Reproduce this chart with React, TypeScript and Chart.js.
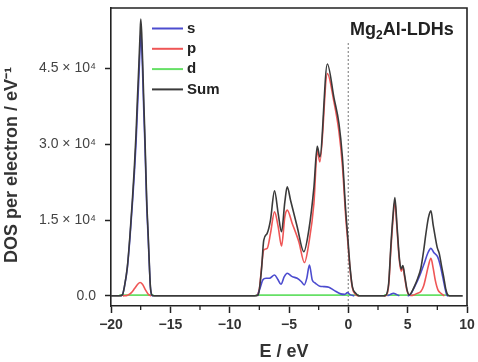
import React, { useEffect, useRef } from 'react';
import { Chart, registerables } from 'chart.js';
Chart.register(...registerables);

// ---- data (E in eV, DOS per electron / eV^-1) ----
const xTicks = [-20, -15, -10, -5, 0, 5, 10];
const xMinorTicks = [-17.5, -12.5, -7.5, -2.5, 2.5, 7.5];
const yTicks = [0, 15000, 30000, 45000];
const seriesLabels = ['s', 'p', 'd', 'Sum'];
const seriesColors = ['#4c4ccf', '#ef5656', '#66e066', '#3a3a3a'];
const chartTitle = ['Mg', '2', 'Al-LDHs'];
const fermiLineTop = 50000;

const sCurve: [number, number | null][] = [
  [-19.2, 0], [-19.04, 200], [-18.87, 1800], [-18.62, 5600], [-18.39, 11900], [-18.2, 18200],
  [-18.03, 24300], [-17.89, 30300], [-17.78, 36500], [-17.66, 42800], [-17.55, 49300], [-17.49, 52100],
  [-17.41, 49400], [-17.32, 43000], [-17.24, 36800], [-17.15, 30500], [-17.07, 24200], [-16.99, 17900],
  [-16.87, 11600], [-16.76, 5500], [-16.68, 1700], [-16.56, 150], [-16.45, 0], [-12, null],
  [-7.65, 0], [-7.4, 1800], [-7.21, 3160], [-6.93, 3490], [-6.65, 3490], [-6.22, 4150], [-5.95, 3300],
  [-5.68, 2300], [-5.4, 3800], [-5.15, 4480], [-4.73, 3820], [-4.31, 3490], [-3.95, 2800], [-3.72, 2170],
  [-3.5, 3500], [-3.28, 6120], [-3.04, 3160], [-2.76, 2500], [-2.4, 1900], [-2.06, 1840], [-1.64, 1700],
  [-1.2, 1100], [-0.65, 400], [-0.3, 300], [-0.08, 650], [0.15, 250], [0.5, 0], [2, null],
  [3.3, 0], [3.55, 300], [3.8, 530], [4.05, 300], [4.3, 0], [4.6, null],
  [5.0, 0], [5.13, 100], [5.3, 500], [5.56, 1700], [5.85, 3100], [6.11, 4600], [6.4, 6450], [6.7, 8500],
  [6.96, 9410], [7.2, 8600], [7.52, 7760], [7.75, 6000], [7.95, 3820], [8.15, 1500], [8.31, 100], [8.4, 0],
];

const pCurve: [number, number | null][] = [
  [-19.0, 0], [-18.6, 150], [-18.3, 600], [-18.0, 1500], [-17.75, 2300], [-17.55, 2650], [-17.35, 2300],
  [-17.1, 1200], [-16.85, 300], [-16.6, 0], [-12, null],
  [-7.7, 0], [-7.49, 1500], [-7.3, 6000], [-7.13, 9080], [-6.84, 9400], [-6.56, 12370], [-6.22, 16640],
  [-5.91, 13680], [-5.63, 9870], [-5.35, 15650], [-5.15, 16980], [-4.73, 14350], [-4.17, 10720],
  [-3.7, 6600], [-3.33, 10400], [-2.9, 18300], [-2.62, 28800], [-2.4, 26500], [-1.77, 44000],
  [-1.21, 38400], [-0.79, 32500], [-0.5, 25800], [-0.225, 15800], [-0.03, 10300], [0.14, 5400],
  [0.34, 1600], [0.6, 300], [0.9, 0], [2, null],
  [3.0, 0], [3.2, 100], [3.4, 2100], [3.58, 9000], [3.75, 14700], [3.92, 18700], [4.1, 13300], [4.3, 7000],
  [4.45, 4900], [4.6, 5600], [4.75, 3600], [4.95, 1000], [5.15, 150], [5.41, 100], [5.8, 500], [6.11, 850],
  [6.35, 2000], [6.54, 3820], [6.75, 6000], [6.96, 7440], [7.15, 5500], [7.32, 3160], [7.55, 1200],
  [7.8, 530], [8.1, 0],
];

const dCurve: [number, number | null][] = [
  [-19.3, 150], [-16.4, 150], [-12, null],
  [-7.8, 150], [0.9, 150], [2, null],
  [3.0, 150], [8.5, 150],
];

const sumCurve: [number, number | null][] = [
  [-20, 0], [-19.3, 0], [-19.04, 200], [-18.87, 1840], [-18.62, 5790], [-18.39, 12370], [-18.2, 18950],
  [-18.03, 25520], [-17.89, 32100], [-17.78, 38690], [-17.66, 45260], [-17.55, 51860], [-17.49, 54800],
  [-17.41, 51860], [-17.32, 45260], [-17.24, 38690], [-17.15, 32100], [-17.07, 25520], [-16.99, 18950],
  [-16.87, 12370], [-16.76, 5790], [-16.68, 1840], [-16.56, 200], [-16.4, 0],
  [-7.9, 0], [-7.6, 200], [-7.32, 5130], [-7.13, 11000], [-6.84, 12380], [-6.56, 15000], [-6.22, 20790],
  [-5.91, 16300], [-5.63, 12700], [-5.35, 18600], [-5.15, 21580], [-4.87, 18950], [-4.31, 13700],
  [-3.75, 8750], [-3.33, 13030], [-2.9, 21500], [-2.62, 29600], [-2.4, 27500], [-1.77, 45900],
  [-1.21, 39200], [-0.79, 34100], [-0.5, 27500], [-0.225, 17000], [-0.03, 11050], [0.14, 5790],
  [0.34, 1840], [0.62, 530], [0.9, 0],
  [3.0, 0], [3.15, 100], [3.4, 2500], [3.58, 9730], [3.75, 15500], [3.92, 19480], [4.1, 14000], [4.3, 7500],
  [4.45, 5300], [4.6, 6000], [4.75, 4000], [4.95, 1200], [5.13, 200], [5.3, 600], [5.56, 1840], [5.85, 3500],
  [6.11, 5470], [6.35, 9000], [6.54, 12370], [6.75, 15500], [6.96, 16840], [7.15, 14000], [7.32, 11700],
  [7.5, 9500], [7.66, 8420], [7.85, 6000], [8.03, 3820], [8.2, 1500], [8.37, 200], [8.5, 0], [9.64, 0],
];

const FF = "'Liberation Sans', Arial, Helvetica, sans-serif";
const toPts = (c: [number, number | null][]) => c.map(([x, y]) => ({ x, y }));

const decor = {
  id: 'decor',
  beforeDatasetsDraw(chart: any) {
    const { ctx, chartArea: a, scales } = chart;
    const px = scales.x.getPixelForValue(0);
    ctx.save();
    ctx.strokeStyle = '#7a7a7a';
    ctx.lineWidth = 1.4;
    ctx.setLineDash([1.4, 2.6]);
    ctx.beginPath();
    ctx.moveTo(px, scales.y.getPixelForValue(fermiLineTop));
    ctx.lineTo(px, a.bottom);
    ctx.stroke();
    ctx.restore();
  },
  afterDraw(chart: any) {
    const { ctx, chartArea: a, scales } = chart;
    ctx.save();
    // frame top & right
    ctx.strokeStyle = '#222';
    ctx.lineWidth = 1.6;
    ctx.beginPath();
    ctx.moveTo(a.left, a.top);
    ctx.lineTo(a.right, a.top);
    ctx.lineTo(a.right, a.bottom);
    ctx.stroke();
    // minor x ticks
    ctx.lineWidth = 1.3;
    xMinorTicks.forEach((v) => {
      const px = scales.x.getPixelForValue(v);
      ctx.beginPath();
      ctx.moveTo(px, a.bottom);
      ctx.lineTo(px, a.bottom + 4);
      ctx.stroke();
    });
    // legend
    seriesLabels.forEach((lab, i) => {
      const yy = a.top + 20.5 + i * 20.3;
      ctx.strokeStyle = seriesColors[i];
      ctx.lineWidth = 2;
      ctx.beginPath();
      ctx.moveTo(a.left + 41, yy);
      ctx.lineTo(a.left + 72, yy);
      ctx.stroke();
      ctx.fillStyle = '#222';
      ctx.font = `bold 15px ${FF}`;
      ctx.textAlign = 'left';
      ctx.textBaseline = 'middle';
      ctx.fillText(lab, a.left + 76, yy);
    });
    // title with subscript
    ctx.fillStyle = '#222';
    ctx.textBaseline = 'alphabetic';
    ctx.textAlign = 'left';
    let tx = a.right - 117;
    const ty = a.top + 27;
    ctx.font = `bold 18px ${FF}`;
    ctx.fillText(chartTitle[0], tx, ty);
    tx += ctx.measureText(chartTitle[0]).width;
    ctx.font = `bold 12px ${FF}`;
    ctx.fillText(chartTitle[1], tx, ty + 4);
    tx += ctx.measureText(chartTitle[1]).width;
    ctx.font = `bold 18px ${FF}`;
    ctx.fillText(chartTitle[2], tx, ty);
    // axis titles
    ctx.fillStyle = '#333';
    ctx.font = `bold 18px ${FF}`;
    ctx.textAlign = 'center';
    ctx.textBaseline = 'middle';
    ctx.fillText('E / eV', 284, 352);
    ctx.translate(12, 165);
    ctx.rotate(-Math.PI / 2);
    ctx.fillText('DOS per electron / eV\u207B\u00B9', 0, 0);
    ctx.restore();
  },
};

export default function App() {
  const ref = useRef<HTMLCanvasElement>(null);
  useEffect(() => {
    const curves = [sCurve, pCurve, dCurve, sumCurve];
    const chart = new Chart(ref.current as HTMLCanvasElement, {
      type: 'line',
      data: {
        datasets: curves.map((c, i) => ({
          label: seriesLabels[i],
          data: toPts(c),
          borderColor: seriesColors[i],
          borderWidth: 1.6,
          pointRadius: 0,
          cubicInterpolationMode: 'monotone' as const,
          spanGaps: false,
          fill: false,
          order: i === 3 ? -1 : 0,
        })),
      },
      options: {
        animation: false,
        responsive: true,
        maintainAspectRatio: false,
        layout: { padding: { left: 0, top: 8, right: 11, bottom: 0 } },
        plugins: { legend: { display: false }, tooltip: { enabled: false }, title: { display: false } },
        scales: {
          x: {
            type: 'linear',
            min: -20,
            max: 10,
            afterBuildTicks: (s: any) => { s.ticks = xTicks.map((v) => ({ value: v })); },
            afterFit: (s: any) => { s.height = 56; s.paddingLeft = 0; s.paddingRight = 0; },
            grid: { drawOnChartArea: false, drawTicks: true, tickLength: 7, tickColor: '#222', tickWidth: 1.5 },
            border: { display: true, color: '#222', width: 1.6 },
            ticks: {
              font: { family: FF, size: 14, weight: 'bold' },
              color: '#333',
              padding: 4,
              maxRotation: 0,
              autoSkip: false,
              callback: (v: any) => (v < 0 ? '\u2212' + Math.abs(v) : String(v)),
            },
          },
          y: {
            type: 'linear',
            min: -2000,
            max: 57000,
            afterBuildTicks: (s: any) => { s.ticks = yTicks.map((v) => ({ value: v })); },
            afterFit: (s: any) => { s.width = 111; s.paddingTop = 0; s.paddingBottom = 0; },
            grid: { drawOnChartArea: false, drawTicks: true, tickLength: 6, tickColor: '#222', tickWidth: 1.5 },
            border: { display: true, color: '#222', width: 1.6 },
            ticks: {
              font: { family: FF, size: 14 },
              color: '#444',
              padding: 9,
              autoSkip: false,
              callback: (v: any) => (v === 0 ? '0.0' : (v / 10000).toFixed(1) + ' \u00D7 10\u2074'),
            },
          },
        },
      },
      plugins: [decor],
    } as any);
    return () => chart.destroy();
  }, []);
  return (
    <div style={{ position: 'fixed', left: 0, top: 0, width: 478, height: 362, background: '#fff' }}>
      <canvas ref={ref} />
    </div>
  );
}
